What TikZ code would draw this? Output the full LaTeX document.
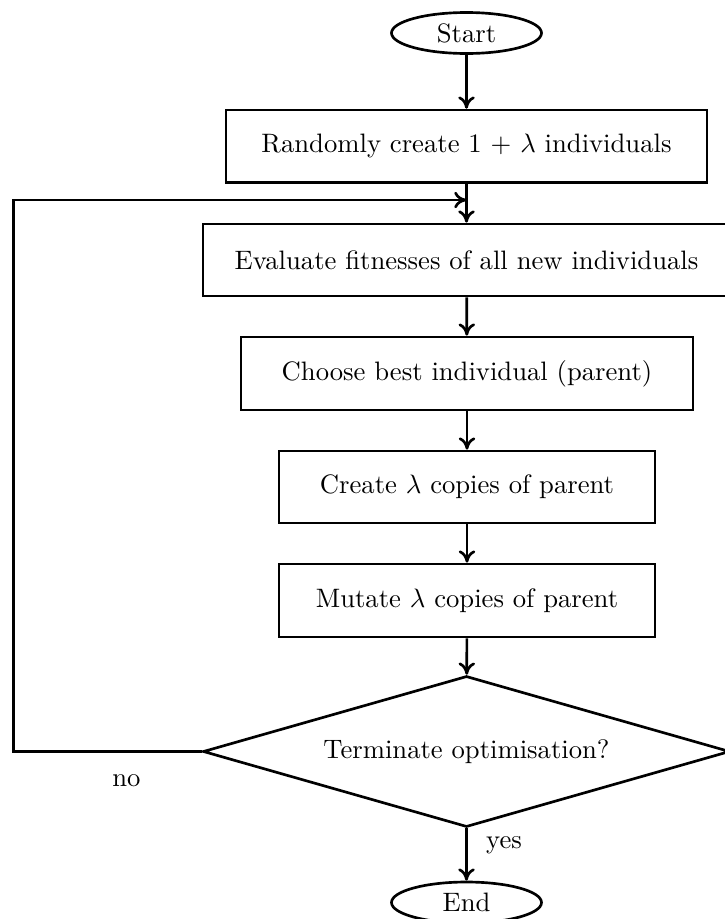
\documentclass[tikz,border=0pt]{standalone}
\usetikzlibrary{shapes.geometric,arrows.meta}
\tikzset{
  base/.style={draw, line width=1pt, inner sep=0pt, align=center},
  procbox/.style={base, rectangle},
  terminal/.style={base, ellipse, minimum width={150*0.3752pt}, minimum height={41*0.3752pt}},
  decision/.style={base, diamond, aspect=3.49, minimum width={527*0.3752pt}, minimum height={151*0.3752pt}},
  flow/.style={-{To[length=4.6pt, width=6.2pt]}, line width=1pt},
}
\begin{document}
\begin{tikzpicture}[x=0.3752pt, y=-0.3752pt]
\useasboundingbox (0,0) rectangle (725,919);
\node[terminal] (start) at (466.5,33) {Start};
\node[procbox, minimum width={481*0.3752pt}, minimum height={72.5*0.3752pt}] (b1) at (466.5,146.3) {Randomly create $1$ + $\lambda$ individuals};
\node[procbox, minimum width={527*0.3752pt}, minimum height={72*0.3752pt}] (b2) at (466.5,260) {Evaluate fitnesses of all new individuals};
\node[procbox, minimum width={452*0.3752pt}, minimum height={73*0.3752pt}] (b3) at (467,373.5) {Choose best individual (parent)};
\node[procbox, minimum width={376*0.3752pt}, minimum height={72*0.3752pt}] (b4) at (467,487) {Create $\lambda$ copies of parent};
\node[procbox, minimum width={376*0.3752pt}, minimum height={73*0.3752pt}] (b5) at (467,600.5) {Mutate $\lambda$ copies of parent};
\node[decision] (dec) at (466.5,751.5) {Terminate optimisation?};
\node[terminal] (end) at (466.5,902.5) {End};
\coordinate (loopL) at (13.3,751.5);
\coordinate (merge) at (466.5,200);
\node (no) at (126.5,781) {no};
\node (yes) at (504,845) {yes};

\draw[flow] (start) -- (b1);
\draw[flow] (b1) -- (b2);
\draw[flow] (b2) -- (b3);
\draw[flow] (b3) -- (b4);
\draw[flow] (b4) -- (b5);
\draw[flow] (b5) -- (dec);
\draw[flow] (dec) -- (end);
\draw[flow] (dec.west) -- (loopL) |- (merge);
\end{tikzpicture}
\end{document}
